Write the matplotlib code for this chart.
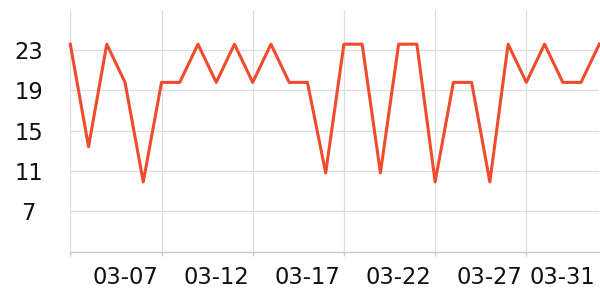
import matplotlib
matplotlib.use("Agg")
import matplotlib.pyplot as plt

dates = ["03-04", "03-05", "03-06", "03-07", "03-08", "03-09", "03-10", "03-11",
         "03-12", "03-13", "03-14", "03-15", "03-16", "03-17", "03-18", "03-19",
         "03-20", "03-21", "03-22", "03-23", "03-24", "03-25", "03-26", "03-27",
         "03-28", "03-29", "03-30", "03-31", "04-01", "04-02"]
values = [23.6, 13.4, 23.6, 19.8, 9.9, 19.8, 19.8, 23.6, 19.8, 23.6,
          19.8, 23.6, 19.8, 19.8, 10.8, 23.6, 23.6, 10.8, 23.6, 23.6,
          9.9, 19.8, 19.8, 9.9, 23.6, 19.8, 23.6, 19.8, 19.8, 23.6]
label_dates = ["03-07", "03-12", "03-17", "03-22", "03-27", "03-31"]
grid_dates = ["03-04", "03-09", "03-14", "03-19", "03-24", "03-29"]
y_ticks = [7, 11, 15, 19, 23]

fig = plt.figure(figsize=(6, 3), dpi=100)
ax = fig.add_axes([70.3 / 600, (300 - 252.3) / 300, (599.3 - 70.3) / 600, (252.3 - 10) / 300])

x = list(range(len(dates)))
ax.plot(x, values, color="#ef4b2c", linewidth=2.2, solid_joinstyle="round", zorder=3, clip_on=False)

ax.set_xlim(0, len(dates) - 1)
ax.set_ylim(2.9, 27.0)

label_pos = [dates.index(d) for d in label_dates]
grid_pos = [dates.index(d) for d in grid_dates]
ax.set_xticks(label_pos)
ax.set_xticklabels(label_dates)
ax.set_xticks(grid_pos, minor=True)
ax.tick_params(axis="x", which="major", length=0, pad=10, labelsize=16.3, labelcolor="#111111")
ax.tick_params(axis="x", which="minor", length=3, color="#cccccc", width=1)
ax.grid(True, axis="x", which="minor", color="#dddddd", linewidth=0.9)

ax.set_yticks(y_ticks)
ax.set_yticklabels([str(v) for v in y_ticks])
ax.tick_params(axis="y", length=0, pad=30.1, labelsize=16.3, labelcolor="#111111")
for lbl in ax.get_yticklabels():
    lbl.set_horizontalalignment("center")
ax.grid(True, axis="y", which="major", color="#dddddd", linewidth=0.9)

for s in ["top", "right", "left"]:
    ax.spines[s].set_visible(False)
ax.spines["bottom"].set_color("#cccccc")
ax.spines["bottom"].set_linewidth(1)
ax.set_axisbelow(True)

fig.savefig("out.png", dpi=100)
